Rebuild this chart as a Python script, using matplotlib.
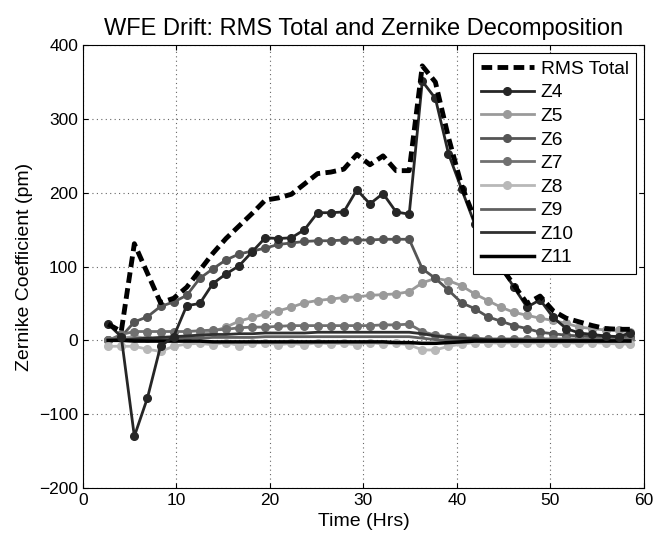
import matplotlib.pyplot as plt

# time axis (hrs)
t = [2.7, 4.1, 5.5, 6.9, 8.3, 9.7, 11.1, 12.5, 13.9, 15.3, 16.7, 18.1, 19.5, 20.9,
     22.3, 23.7, 25.1, 26.5, 27.9, 29.3, 30.7, 32.1, 33.5, 34.9, 36.3, 37.7, 39.1,
     40.5, 41.9, 43.3, 44.7, 46.1, 47.5, 48.9, 50.3, 51.7, 53.1, 54.5, 55.9, 57.3, 58.5]

rms_total = [22, 12, 131, 91, 51, 57, 72, 95, 118, 138, 155, 172, 190, 193,
             198, 212, 226, 228, 232, 252, 238, 250, 230, 230, 372, 350, 275,
             210, 165, 130, 100, 75, 50, 60, 40, 30, 25, 20, 16, 15, 15]
z4 = [22, 5, -130, -78, -8, 5, 47, 50, 77, 90, 101, 120, 139, 138,
      139, 150, 173, 173, 174, 204, 185, 199, 174, 171, 351, 328, 253,
      205, 158, 125, 100, 72, 45, 55, 31, 16, 10, 8, 6, 5, 10]
z5 = [0, 3, 5, 3, 2, 3, 5, 8, 12, 18, 26, 31, 36, 40,
      45, 51, 54, 56, 58, 59, 61, 62, 63, 66, 78, 84, 81,
      74, 63, 54, 45, 38, 34, 30, 27, 23, 18, 16, 14, 14, 11]
z6 = [0, 5, 25, 32, 46, 52, 61, 84, 97, 109, 117, 121, 125, 130,
      132, 134, 135, 135, 136, 136, 136, 137, 137, 137, 97, 84, 68,
      51, 43, 32, 26, 20, 16, 11, 9, 7, 6, 5, 5, 5, 5]
z7 = [0, 8, 12, 12, 12, 12, 12, 13, 14, 15, 17, 18, 18, 19,
      20, 20, 20, 20, 20, 20, 20, 21, 21, 22, 12, 7, 5,
      4, 3, 2, 2, 2, 2, 2, 2, 2, 2, 2, 2, 2, 2]
z8 = [-8, -8, -8, -12, -15, -8, -5, -4, -6, -3, -7, -4, -3, -6,
      -4, -6, -3, -5, -4, -6, -3, -5, -4, -6, -13, -13, -8,
      -5, -3, -3, -4, -3, -4, -3, -4, -3, -4, -3, -4, -5, -5]
z9 = [0, 1, 1, 2, 2, 3, 3, 3, 4, 4, 4, 4, 5, 5,
      5, 5, 5, 5, 5, 5, 5, 5, 5, 5, 3, 1, 0,
      0, 0, 0, 0, 0, 0, 0, 0, 0, 0, 0, 0, 0, 0]
z10 = [0, 1, 2, 3, 4, 5, 6, 7, 8, 8, 9, 9, 10, 10,
       10, 10, 11, 11, 11, 11, 11, 11, 11, 11, 9, 6, 4,
       3, 2, 1, 1, 1, 0, 0, 0, 0, 0, 0, 0, 0, 0]
z11 = [0, 0, -1, -1, -1, -1, -1, -1, -2, -2, -2, -2, -2, -2,
       -2, -2, -2, -2, -2, -2, -2, -2, -3, -3, -4, -4, -3,
       -2, -1, -1, -1, -1, -1, -1, -1, -1, -1, -1, -1, -1, -1]

plt.rcParams['font.family'] = ['Liberation Sans', 'DejaVu Sans']

fig = plt.figure(figsize=(6.53, 5.38), dpi=100)
ax = fig.add_axes([0.127, 0.093, 0.859, 0.823])

ax.plot(t, rms_total, color='black', linestyle=(0, (2.2, 1.1)), linewidth=3.5, label='RMS Total', zorder=5)
ax.plot(t, z4, color='#262626', marker='o', markersize=5.5, linewidth=2, label='Z4', zorder=4)
ax.plot(t, z5, color='#9a9a9a', marker='o', markersize=5.5, linewidth=2, label='Z5')
ax.plot(t, z6, color='#555555', marker='o', markersize=5.5, linewidth=2, label='Z6')
ax.plot(t, z7, color='#707070', marker='o', markersize=5.5, linewidth=2, label='Z7')
ax.plot(t, z8, color='#b8b8b8', marker='o', markersize=5.5, linewidth=2, label='Z8')
ax.plot(t, z9, color='#606060', linewidth=2, label='Z9')
ax.plot(t, z10, color='#303030', linewidth=2, label='Z10')
ax.plot(t, z11, color='black', linewidth=2.5, label='Z11')

ax.set_xlim(0, 60)
ax.set_ylim(-200, 400)
ax.set_xticks(range(0, 61, 10))
ax.set_yticks(range(-200, 401, 100))
ax.tick_params(direction='in', labelsize=12.5, top=True, right=True)
ax.grid(True, linestyle=(0, (1, 3)), color='#666666', linewidth=0.8)
ax.set_xlabel('Time (Hrs)', fontsize=14)
ax.set_ylabel('Zernike Coefficient (pm)', fontsize=14)
ax.set_title('WFE Drift: RMS Total and Zernike Decomposition', fontsize=17, pad=7)

leg = ax.legend(loc='upper right', fontsize=13.8, fancybox=False, framealpha=1,
                edgecolor='black', handlelength=2.75, labelspacing=0.32,
                borderaxespad=0.4, handletextpad=0.35, borderpad=0.4)
leg.get_frame().set_linewidth(0.8)

plt.savefig('out.png', dpi=100)
